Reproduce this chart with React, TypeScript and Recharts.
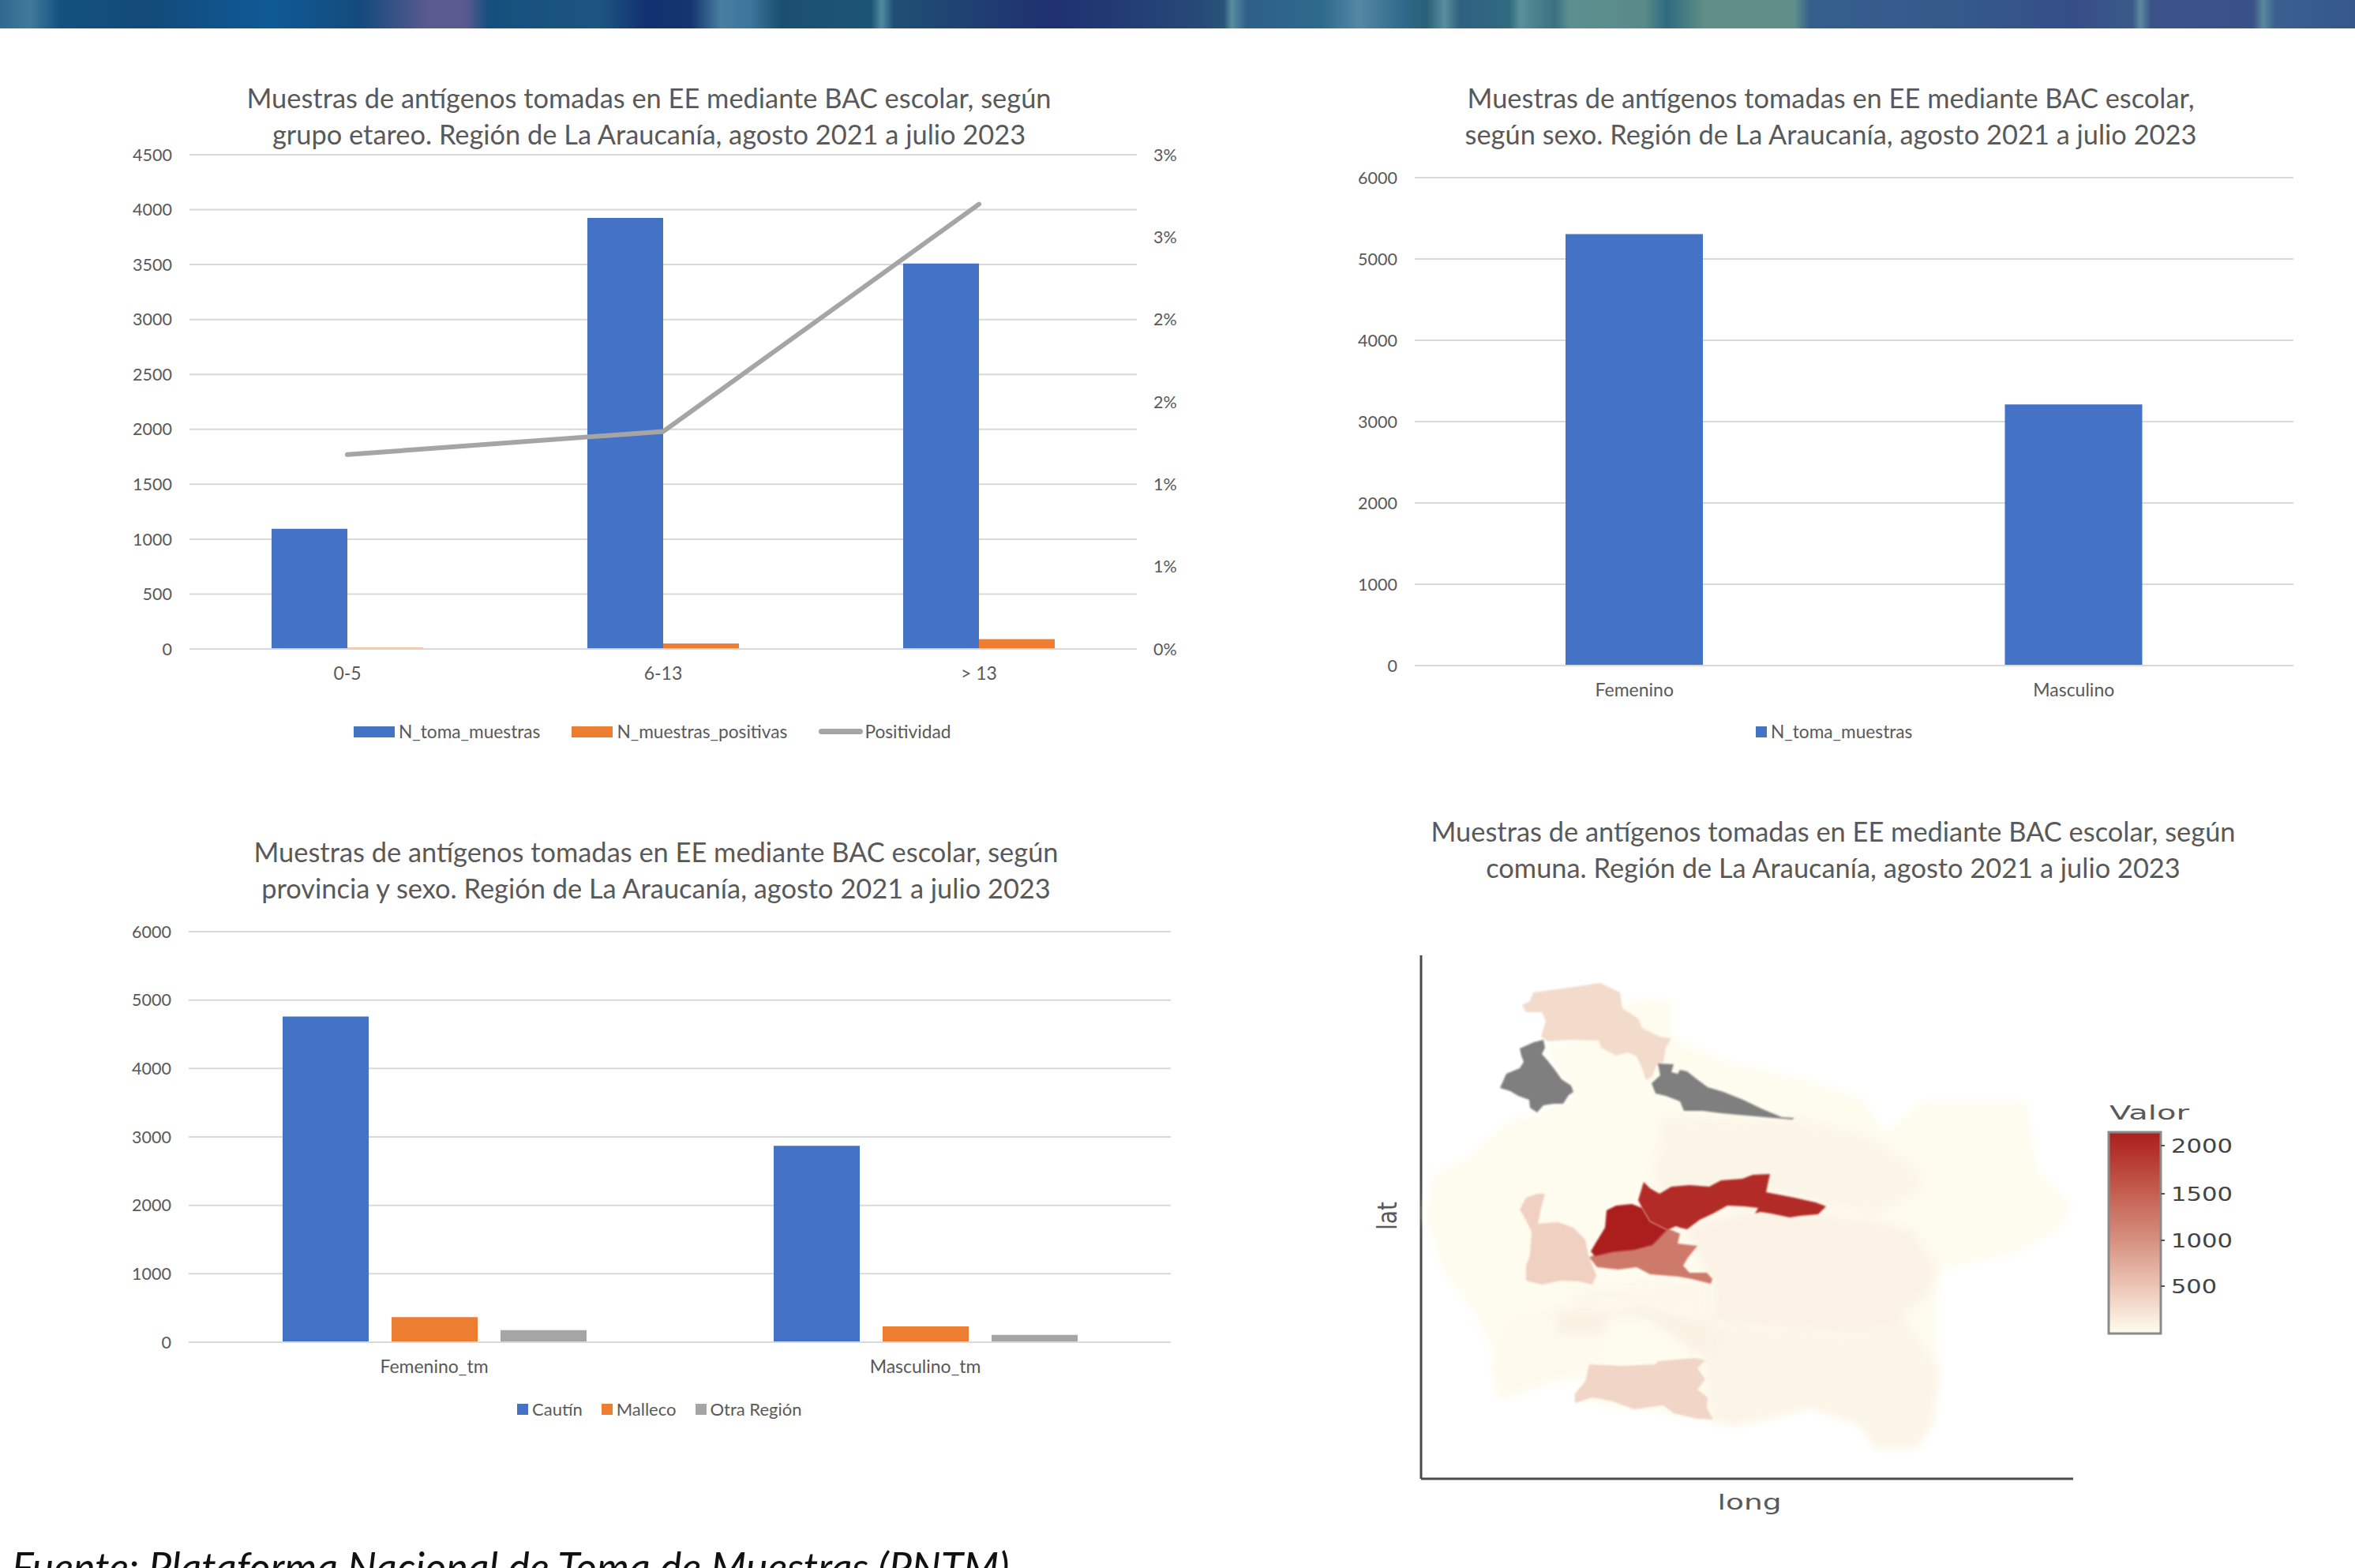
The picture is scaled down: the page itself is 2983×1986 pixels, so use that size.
import React from 'react';
import {
  Bar,
  BarChart,
  CartesianGrid,
  ComposedChart,
  Legend,
  Line,
  Scatter,
  ScatterChart,
  XAxis,
  YAxis,
} from 'recharts';

const BLUE = '#4472c4';
const ORANGE = '#ed7d31';
const GREY = '#a5a5a5';
const TEXT = '#595959';
const GRID = '#d9d9d9';
const FONT = 'Lato, "Open Sans", sans-serif';
const MAP_FONT = '"DejaVu Sans", sans-serif';

// grupo etareo
const ageGroups = ['0-5', '6-13', '> 13'];
const ageSamples = [1095, 3925, 3510];
const agePositives = [10, 50, 90];
const agePositivity = [1.18, 1.32, 2.7];
const ageTicks = [0, 500, 1000, 1500, 2000, 2500, 3000, 3500, 4000, 4500];
const positivityTicks = [0, 0.5, 1, 1.5, 2, 2.5, 3];
const ageSeries = ['N_toma_muestras', 'N_muestras_positivas', 'Positividad'];

// sexo
const sexes = ['Femenino', 'Masculino'];
const sexSamples = [5305, 3210];
const sexTicks = [0, 1000, 2000, 3000, 4000, 5000, 6000];

// provincia y sexo
const provinceGroups = ['Femenino_tm', 'Masculino_tm'];
const cautin = [4760, 2870];
const malleco = [365, 230];
const otraRegion = [175, 108];

const ageData = ageGroups.map((g, i) => ({
  g,
  N_toma_muestras: ageSamples[i],
  N_muestras_positivas: agePositives[i],
  Positividad: agePositivity[i],
}));
const sexData = sexes.map((g, i) => ({ g, N_toma_muestras: sexSamples[i] }));
const provinceData = provinceGroups.map((g, i) => ({
  g,
  'Cautín': cautin[i],
  Malleco: malleco[i],
  'Otra Región': otraRegion[i],
}));

// comunas, [long, lat]
const regionOutline = [[-72.92,-37.22],[-72.716,-37.228],[-72.74,-37.412],[-72.46,-37.536],[-72.104,-37.616],[-71.772,-37.72],[-71.644,-37.904],[-71.464,-37.74],[-70.928,-37.74],[-70.88,-38.088],[-70.7,-38.268],[-70.776,-38.392],[-70.98,-38.504],[-71.364,-38.596],[-71.388,-38.8],[-71.376,-39.108],[-71.416,-39.372],[-71.492,-39.492],[-71.696,-39.492],[-71.772,-39.372],[-72.028,-39.288],[-72.408,-39.38],[-72.524,-39.36],[-73.228,-39.26],[-73.176,-39.136],[-73.432,-39.188],[-73.62,-39.248],[-73.636,-39.004],[-73.736,-38.8],[-73.888,-38.596],[-73.98,-38.312],[-73.94,-38.108],[-73.76,-38.024],[-73.556,-37.84],[-73.432,-37.8],[-73.228,-37.72],[-73.38,-37.452],[-73.24,-37.44]];
const eastMid = [[-72.768,-37.82],[-72.104,-37.832],[-71.748,-37.912],[-71.464,-38.096],[-71.476,-38.188],[-71.696,-38.312],[-71.952,-38.268],[-72.232,-38.208],[-72.768,-38.352],[-72.816,-38.088]];
const southCentral = [[-72.664,-38.372],[-72.308,-38.288],[-71.744,-38.332],[-71.516,-38.392],[-71.388,-38.576],[-71.428,-38.72],[-71.568,-38.82],[-71.544,-38.964],[-71.848,-38.924],[-72.512,-38.86],[-72.524,-38.72],[-72.536,-38.656],[-72.612,-38.492]];
const south = [[-72.524,-38.86],[-71.848,-38.924],[-71.544,-38.86],[-71.376,-39.108],[-71.416,-39.372],[-71.492,-39.492],[-71.696,-39.492],[-71.772,-39.372],[-72.028,-39.288],[-72.408,-39.38],[-72.524,-39.36],[-72.564,-39.044]];
const bandNorth = [[-73.212,-38.692],[-72.52,-38.64],[-72.52,-38.828],[-72.748,-38.788],[-73.012,-38.76],[-73.228,-38.788]];
const bandSouth = [[-73.328,-38.8],[-73.052,-38.8],[-72.88,-38.772],[-72.748,-38.812],[-72.52,-38.852],[-72.52,-39.028],[-72.612,-39.012],[-72.748,-38.908],[-72.88,-38.828],[-73.04,-38.828],[-73.092,-38.932],[-73.308,-38.932]];
const southWest = [[-73.48,-38.828],[-73.332,-38.812],[-73.32,-38.932],[-73.08,-38.948],[-73.148,-39.08],[-73.372,-39.148],[-73.588,-39.24],[-73.628,-39.092],[-73.56,-38.892]];
const peachNorth = [[-73.432,-37.188],[-73.28,-37.168],[-73.092,-37.14],[-72.992,-37.188],[-72.98,-37.268],[-72.9,-37.32],[-72.88,-37.368],[-72.792,-37.412],[-72.732,-37.42],[-72.76,-37.468],[-72.772,-37.54],[-72.808,-37.56],[-72.828,-37.612],[-72.86,-37.632],[-72.88,-37.572],[-72.908,-37.512],[-72.952,-37.492],[-73.012,-37.508],[-73.088,-37.468],[-73.1,-37.432],[-73.24,-37.428],[-73.36,-37.436],[-73.392,-37.412],[-73.368,-37.332],[-73.388,-37.288],[-73.468,-37.288],[-73.488,-37.252],[-73.448,-37.232]];
const peachWest = [[-73.468,-38.228],[-73.412,-38.208],[-73.372,-38.208],[-73.392,-38.28],[-73.408,-38.36],[-73.308,-38.352],[-73.228,-38.38],[-73.168,-38.44],[-73.152,-38.52],[-73.132,-38.572],[-73.112,-38.62],[-73.132,-38.668],[-73.2,-38.652],[-73.292,-38.648],[-73.388,-38.668],[-73.468,-38.648],[-73.468,-38.572],[-73.448,-38.52],[-73.44,-38.4],[-73.48,-38.32],[-73.5,-38.288]];
const peachSouth = [[-73.148,-39.072],[-72.988,-39.08],[-72.812,-39.072],[-72.8,-39.056],[-72.612,-39.04],[-72.56,-39.052],[-72.6,-39.092],[-72.56,-39.148],[-72.6,-39.2],[-72.548,-39.24],[-72.552,-39.292],[-72.52,-39.352],[-72.6,-39.348],[-72.72,-39.32],[-72.772,-39.28],[-72.92,-39.3],[-73.028,-39.26],[-73.132,-39.24],[-73.22,-39.268],[-73.22,-39.22],[-73.168,-39.16]];
const grayWest = [[-73.38,-37.428],[-73.428,-37.44],[-73.5,-37.472],[-73.492,-37.508],[-73.48,-37.54],[-73.5,-37.572],[-73.568,-37.6],[-73.6,-37.672],[-73.548,-37.688],[-73.508,-37.712],[-73.452,-37.732],[-73.448,-37.772],[-73.412,-37.796],[-73.38,-37.76],[-73.328,-37.752],[-73.28,-37.752],[-73.252,-37.708],[-73.228,-37.692],[-73.24,-37.66],[-73.288,-37.628],[-73.328,-37.572],[-73.36,-37.532],[-73.388,-37.5],[-73.372,-37.468]];
const grayEast = [[-72.8,-37.548],[-72.72,-37.552],[-72.732,-37.592],[-72.7,-37.6],[-72.688,-37.58],[-72.652,-37.588],[-72.612,-37.62],[-72.548,-37.668],[-72.468,-37.692],[-72.368,-37.732],[-72.268,-37.78],[-72.172,-37.82],[-72.108,-37.824],[-72.12,-37.832],[-72.212,-37.824],[-72.348,-37.812],[-72.48,-37.8],[-72.572,-37.788],[-72.668,-37.788],[-72.688,-37.74],[-72.76,-37.712],[-72.812,-37.7],[-72.832,-37.648],[-72.788,-37.608]];
const medium = [[-73.148,-38.53],[-73.108,-38.51],[-72.968,-38.49],[-72.832,-38.46],[-72.748,-38.385],[-72.688,-38.41],[-72.7,-38.46],[-72.6,-38.472],[-72.648,-38.532],[-72.672,-38.572],[-72.64,-38.608],[-72.552,-38.608],[-72.524,-38.64],[-72.532,-38.664],[-72.628,-38.64],[-72.692,-38.628],[-72.84,-38.616],[-72.908,-38.58],[-73,-38.592],[-73.108,-38.58]];
const redBelt = [[-72.872,-38.148],[-72.84,-38.18],[-72.792,-38.208],[-72.732,-38.172],[-72.64,-38.164],[-72.54,-38.172],[-72.48,-38.14],[-72.372,-38.132],[-72.32,-38.112],[-72.232,-38.108],[-72.252,-38.2],[-72.108,-38.228],[-72,-38.252],[-71.948,-38.272],[-71.988,-38.312],[-72.08,-38.32],[-72.132,-38.328],[-72.228,-38.308],[-72.28,-38.3],[-72.308,-38.308],[-72.292,-38.28],[-72.36,-38.272],[-72.448,-38.268],[-72.52,-38.308],[-72.588,-38.34],[-72.652,-38.388],[-72.688,-38.38],[-72.708,-38.372],[-72.752,-38.392],[-72.84,-38.348],[-72.88,-38.28],[-72.9,-38.24]];
const darkCenter = [[-73.14,-38.5],[-73.112,-38.452],[-73.068,-38.38],[-73.06,-38.292],[-73.012,-38.268],[-72.932,-38.26],[-72.88,-38.28],[-72.84,-38.348],[-72.752,-38.392],[-72.828,-38.468],[-72.92,-38.492],[-73.028,-38.504],[-73.12,-38.524]];

// valor of each shape, null means no data (grey)
const comunas: { id: string; valor: number | null; outline: number[][] }[] = [
  { id: 'region', valor: 5, outline: regionOutline },
  { id: 'eastMid', valor: 70, outline: eastMid },
  { id: 'southCentral', valor: 95, outline: southCentral },
  { id: 'south', valor: 75, outline: south },
  { id: 'bandNorth', valor: 55, outline: bandNorth },
  { id: 'bandSouth', valor: 105, outline: bandSouth },
  { id: 'southWest', valor: 35, outline: southWest },
  { id: 'peachNorth', valor: 300, outline: peachNorth },
  { id: 'peachWest', valor: 395, outline: peachWest },
  { id: 'peachSouth', valor: 350, outline: peachSouth },
  { id: 'grayWest', valor: null, outline: grayWest },
  { id: 'grayEast', valor: null, outline: grayEast },
  { id: 'medium', valor: 1200, outline: medium },
  { id: 'redBelt', valor: 2000, outline: redBelt },
  { id: 'darkCenter', valor: 2150, outline: darkCenter },
];
const valorTicks = [2000, 1500, 1000, 500];

// colour ramp of the map
const rampValues = [0, 500, 1000, 1500, 2000, 2200];
const rampColors = [[254, 253, 240], [236, 196, 180], [214, 143, 127], [194, 90, 76], [178, 43, 39], [168, 26, 26]];

function valorColor(v: number | null) {
  if (v === null) return '#7f7f7f';
  let i = 0;
  while (i < rampValues.length - 2 && v > rampValues[i + 1]) i++;
  const t = (v - rampValues[i]) / (rampValues[i + 1] - rampValues[i]);
  const c = rampColors[i].map((a, k) => Math.round(a + (rampColors[i + 1][k] - a) * t));
  return `rgb(${c.join(',')})`;
}

const bannerStops = [
  [0, '#2f6a8f'], [20, '#3f7a9b'], [40, '#14517f'], [100, '#124a7a'], [180, '#0f5a96'], [240, '#154a7c'],
  [285, '#5a5a90'], [310, '#5a5a90'], [325, '#154f7d'], [400, '#1c5580'], [430, '#12306f'], [460, '#14356f'],
  [480, '#4a7ea2'], [500, '#3a759a'], [520, '#1b4f70'], [580, '#1d5574'], [587, '#508aa0'], [595, '#1f4f74'],
  [700, '#1f3070'], [800, '#264a78'], [815, '#2a5578'], [820, '#5a8ea0'], [830, '#2f6088'], [880, '#2d6a8c'],
  [905, '#5488a5'], [935, '#2f6888'], [950, '#2a6178'], [962, '#5a8ea0'], [972, '#2f6080'], [1005, '#2f6a80'],
  [1012, '#5a9098'], [1035, '#3a7080'], [1045, '#5c9090'], [1095, '#5a8a88'], [1110, '#2f6a80'], [1135, '#608f88'],
  [1195, '#5f8f88'], [1205, '#365e8d'], [1300, '#345a8a'], [1380, '#364e88'], [1420, '#3a5a88'], [1425, '#5a8aa0'],
  [1432, '#3b5488'], [1500, '#3a5088'], [1507, '#5a8a9c'], [1515, '#3a5f90'], [1568, '#35578a'],
];
const bannerGradient = `linear-gradient(90deg, ${bannerStops
  .map(([p, c]) => `${c} ${((p as number) / 15.68).toFixed(2)}%`)
  .join(', ')})`;

const tickStyle = { fill: TEXT, fontSize: 21.5, fontFamily: FONT };
const categoryStyle = { fill: TEXT, fontSize: 23, fontFamily: FONT };

const Title = ({ lines, cx, top }: { lines: string[]; cx: number; top: number }) => (
  <div
    style={{
      position: 'absolute',
      left: cx - 700,
      top,
      width: 1400,
      textAlign: 'center',
      fontFamily: FONT,
      fontSize: 34.4,
      lineHeight: '45.5px',
      color: TEXT,
    }}
  >
    {lines.map((l) => (
      <div key={l}>{l}</div>
    ))}
  </div>
);

const LegendRow = ({ payload, iconW, gap, fontSize }: any) => (
  <div style={{ display: 'flex', alignItems: 'center', gap, fontFamily: FONT, fontSize, color: TEXT, whiteSpace: 'nowrap' }}>
    {(payload || []).map((item: any) => (
      <div key={item.value} style={{ display: 'flex', alignItems: 'center', gap: item.type === 'line' ? 2 : 5 }}>
        <span
          style={{
            display: 'inline-block',
            width: item.type === 'line' ? iconW + 4 : iconW,
            height: item.type === 'line' ? 7 : 14,
            borderRadius: item.type === 'line' ? 4 : 0,
            background: item.color,
          }}
        />
        {item.value}
      </div>
    ))}
  </div>
);

const PositivityChart = () => (
  <ComposedChart width={1400} height={790} data={ageData} margin={{ top: 26, right: 0, bottom: 78, left: 20 }} barGap={0}>
    <CartesianGrid yAxisId="left" vertical={false} stroke={GRID} strokeWidth={2} />
    <XAxis dataKey="g" tick={categoryStyle} tickLine={false} tickSize={0} tickMargin={23} height={60} axisLine={{ stroke: GRID, strokeWidth: 2 }} />
    <YAxis yAxisId="left" domain={[0, 4500]} ticks={ageTicks} width={100} tick={tickStyle} tickLine={false} tickSize={0} tickMargin={22} axisLine={false} />
    <YAxis yAxisId="right" orientation="right" domain={[0, 3]} ticks={positivityTicks} tickFormatter={(v) => `${Math.round(v)}%`} width={80} tick={tickStyle} tickLine={false} tickSize={0} tickMargin={21} axisLine={false} />
    <Bar yAxisId="left" dataKey="N_toma_muestras" fill={BLUE} barSize={96} isAnimationActive={false} />
    <Bar yAxisId="left" dataKey="N_muestras_positivas" fill={ORANGE} barSize={96} isAnimationActive={false} />
    <Line yAxisId="right" dataKey="Positividad" stroke={GREY} strokeWidth={6} strokeLinecap="round" dot={false} isAnimationActive={false} />
    <Legend
      verticalAlign="middle"
      itemSorter={(item: any) => ageSeries.indexOf(item.value)}
      wrapperStyle={{ left: 328, top: 743, width: 'auto' }}
      content={(p: any) => <LegendRow payload={p.payload} iconW={52} gap={40} fontSize={22.7} />}
    />
  </ComposedChart>
);

const SexChart = () => (
  <BarChart width={1260} height={760} data={sexData} margin={{ top: 25, right: 35, bottom: 57, left: 12 }}>
    <CartesianGrid vertical={false} stroke={GRID} strokeWidth={2} />
    <XAxis dataKey="g" tick={categoryStyle} tickLine={false} tickSize={0} tickMargin={23} height={60} axisLine={{ stroke: GRID, strokeWidth: 2 }} />
    <YAxis domain={[0, 6000]} ticks={sexTicks} width={100} tick={tickStyle} tickLine={false} tickSize={0} tickMargin={22} axisLine={false} />
    <Bar dataKey="N_toma_muestras" fill={BLUE} barSize={174} isAnimationActive={false} />
    <Legend
      verticalAlign="middle"
      wrapperStyle={{ left: 544, top: 713, width: 'auto' }}
      content={(p: any) => <LegendRow payload={p.payload} iconW={14} gap={20} fontSize={22.7} />}
    />
  </BarChart>
);

const ProvinceChart = () => (
  <BarChart width={1400} height={660} data={provinceData} margin={{ top: 20, right: 37, bottom: 60, left: 19 }} barGap={29}>
    <CartesianGrid vertical={false} stroke={GRID} strokeWidth={2} />
    <XAxis dataKey="g" tick={categoryStyle} tickLine={false} tickSize={0} tickMargin={23} height={60} axisLine={{ stroke: GRID, strokeWidth: 2 }} />
    <YAxis domain={[0, 6000]} ticks={sexTicks} width={100} tick={tickStyle} tickLine={false} tickSize={0} tickMargin={22} axisLine={false} />
    <Bar dataKey="Cautín" fill={BLUE} barSize={109} isAnimationActive={false} />
    <Bar dataKey="Malleco" fill={ORANGE} barSize={109} isAnimationActive={false} />
    <Bar dataKey="Otra Región" fill={GREY} barSize={109} isAnimationActive={false} />
    <Legend
      verticalAlign="middle"
      wrapperStyle={{ left: 535, top: 611, width: 'auto' }}
      content={(p: any) => <LegendRow payload={p.payload} iconW={14} gap={24} fontSize={22} />}
    />
  </BarChart>
);

// fills the vertices of one comuna, already scaled by the chart
const polygonLine = (fill: string, blur: number) => (props: any) => (
  <polygon
    points={props.points.map((q: any) => `${q.x},${q.y}`).join(' ')}
    fill={fill}
    stroke="none"
    style={{ filter: `blur(${blur}px)` }}
  />
);
const noPoint = () => <g />;

const ComunaMap = () => (
  <ScatterChart width={1160} height={740} margin={{ top: 20, right: 274, bottom: 47, left: 40 }}>
    <XAxis type="number" dataKey="long" domain={[-74, -70.696]} tick={false} tickLine={false} height={10} axisLine={{ stroke: '#4a4a4a', strokeWidth: 3 }} />
    <YAxis type="number" dataKey="lat" domain={[-39.652, -37]} tick={false} tickLine={false} width={20} axisLine={{ stroke: '#4a4a4a', strokeWidth: 3 }} />
    {comunas.map((c) => (
      <Scatter
        key={c.id}
        data={c.outline.map(([long, lat]) => ({ long, lat }))}
        line={polygonLine(valorColor(c.valor), c.valor !== null && c.valor < 200 ? 6 : 1)}
        shape={noPoint}
        legendType="none"
        isAnimationActive={false}
      />
    ))}
    <text x={476} y={722} fontFamily={MAP_FONT} fontSize={27} fill={TEXT} textLength={81} lengthAdjust="spacingAndGlyphs" textAnchor="middle">long</text>
    <text transform="translate(29,350) rotate(-90)" fontFamily={MAP_FONT} fontSize={34} fill={TEXT} textLength={36} lengthAdjust="spacingAndGlyphs" textAnchor="middle">lat</text>
    <defs>
      <linearGradient id="valorRamp" x1="0" y1="0" x2="0" y2="1">
        <stop offset="0" stopColor="#ab1f1f" />
        <stop offset="0.07" stopColor="#b22b27" />
        <stop offset="0.3" stopColor="#c45f50" />
        <stop offset="0.53" stopColor="#d68f7f" />
        <stop offset="0.76" stopColor="#ecc4b4" />
        <stop offset="1" stopColor="#fefdf0" />
      </linearGradient>
    </defs>
    <text x={932} y={228} fontFamily={MAP_FONT} fontSize={25} fill={TEXT} textLength={101} lengthAdjust="spacingAndGlyphs">Valor</text>
    <rect x={931} y={244} width={66} height={255} fill="url(#valorRamp)" stroke="#8a8a8a" strokeWidth={3} />
    {valorTicks.map((v, i) => {
      const y = [261, 322, 381, 439][i];
      return (
        <g key={v}>
          <line x1={997} x2={1002} y1={y} y2={y} stroke="#555" strokeWidth={2} />
          <text x={1010} y={y + 9} fontFamily={MAP_FONT} fontSize={24} fill="#444" textLength={v === 500 ? 58 : 78} lengthAdjust="spacingAndGlyphs">{v}</text>
        </g>
      );
    })}
  </ScatterChart>
);

const Placed = ({ left, top, children }: { left: number; top: number; children: React.ReactNode }) => (
  <div style={{ position: 'absolute', left, top }}>{children}</div>
);

export default function App() {
  return (
    <div style={{ position: 'absolute', left: 0, top: 0, width: 2983, height: 1986, overflow: 'hidden', background: '#fff' }}>
      <div style={{ position: 'absolute', left: 0, top: 0, width: 2983, height: 36, background: bannerGradient }} />

      <Title lines={['Muestras de antígenos tomadas en EE mediante BAC escolar, según', 'grupo etareo. Región de La Araucanía, agosto 2021 a julio 2023']} cx={822} top={101} />
      <Placed left={120} top={170}><PositivityChart /></Placed>

      <Title lines={['Muestras de antígenos tomadas en EE mediante BAC escolar,', 'según sexo. Región de La Araucanía, agosto 2021 a julio 2023']} cx={2319} top={101} />
      <Placed left={1680} top={200}><SexChart /></Placed>

      <Title lines={['Muestras de antígenos tomadas en EE mediante BAC escolar, según', 'provincia y sexo. Región de La Araucanía, agosto 2021 a julio 2023']} cx={831} top={1056} />
      <Placed left={120} top={1160}><ProvinceChart /></Placed>

      <Title lines={['Muestras de antígenos tomadas en EE mediante BAC escolar, según', 'comuna. Región de La Araucanía, agosto 2021 a julio 2023']} cx={2322} top={1030} />
      <Placed left={1740} top={1190}><ComunaMap /></Placed>

      <div style={{ position: 'absolute', left: 15, top: 1953, fontFamily: FONT, fontStyle: 'italic', fontSize: 52, color: '#111', whiteSpace: 'nowrap' }}>
        Fuente: Plataforma Nacional de Toma de Muestras (PNTM)
      </div>
    </div>
  );
}
